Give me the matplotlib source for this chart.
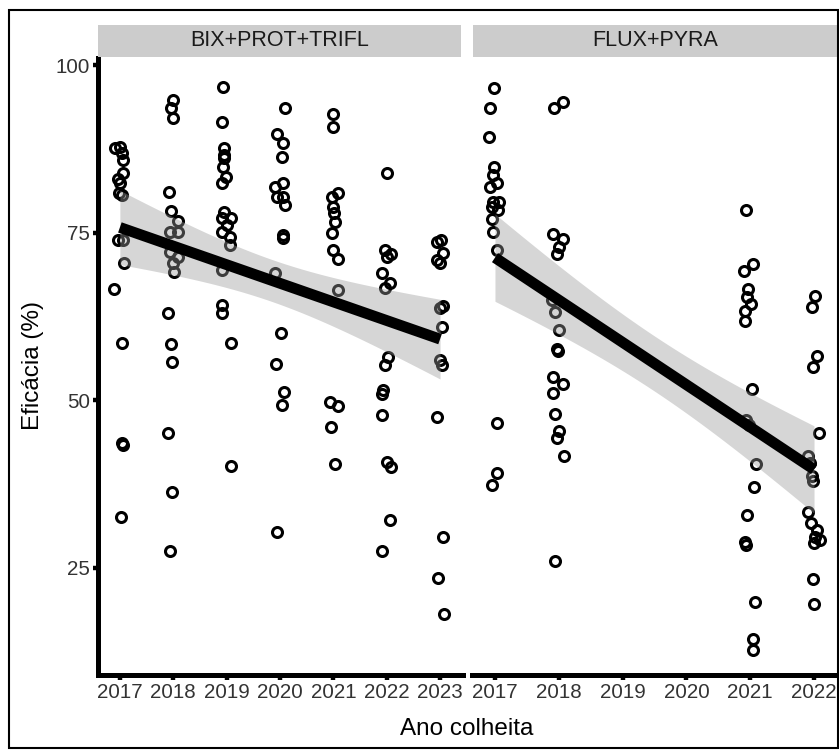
import numpy as np
import matplotlib
matplotlib.use('Agg')
import matplotlib.pyplot as plt
from matplotlib.patches import Rectangle

plt.rcParams['font.family'] = ['Liberation Sans', 'DejaVu Sans']

##### data (year, jitter offset in years, efficacy %) #####
# BIX+PROT+TRIFL
bix_2017 = [87.6, 87.8, 86.9, 85.8, 84.0, 83.1, 82.4, 80.9, 80.6, 73.9, 73.9, 70.5, 66.6, 58.5, 43.6, 43.4, 32.6]
bix_2017_j = [-0.09, 0.0, 0.04, 0.06, 0.06, -0.04, 0.0, -0.02, 0.04, -0.04, 0.06, 0.08, -0.11, 0.04, 0.04, 0.06, 0.02]
bix_2018 = [94.8, 93.7, 92.2, 81.1, 78.2, 76.7, 75.1, 75.1, 72.1, 71.4, 70.5, 69.2, 63.0, 58.4, 55.7, 45.1, 36.3, 27.5]
bix_2018_j = [0, -0.04, 0, -0.08, -0.04, 0.08, -0.06, 0.08, -0.06, 0.08, 0, 0.02, -0.09, -0.04, -0.02, -0.09, -0.02, -0.06]
bix_2019 = [96.7, 91.5, 87.6, 86.6, 86.1, 84.8, 83.3, 82.4, 78.1, 77.2, 77.2, 76.1, 75.1, 74.4, 73.2, 69.4, 64.2, 63.0, 58.5, 40.2]
bix_2019_j = [-0.06, -0.09, -0.04, -0.04, -0.04, -0.06, -0.02, -0.08, -0.04, -0.09, 0.09, 0, -0.08, 0.06, 0.06, -0.08, -0.08, -0.08, 0.09, 0.08]
bix_2020 = [93.7, 89.7, 88.4, 86.3, 82.4, 81.8, 80.3, 80.3, 79.1, 74.7, 74.2, 69.0, 60.1, 55.4, 51.2, 49.3, 30.4]
bix_2020_j = [0.09, -0.06, 0.06, 0.04, 0.06, -0.09, -0.06, 0.06, 0.09, 0.06, 0.06, -0.09, 0.02, -0.08, 0.08, 0.04, -0.06]
bix_2021 = [92.8, 90.8, 80.9, 80.3, 78.8, 77.9, 76.6, 75.0, 72.4, 71.1, 66.5, 49.8, 49.2, 46.0, 40.5]
bix_2021_j = [0, 0, 0.08, -0.02, 0, 0.02, 0.04, -0.02, 0, 0.09, 0.08, -0.06, 0.09, -0.04, 0.04]
bix_2022 = [84.0, 72.4, 71.8, 71.4, 69.0, 67.5, 66.8, 56.5, 55.3, 51.5, 51.0, 47.8, 40.8, 40.1, 32.2, 27.5]
bix_2022_j = [0, -0.04, 0.09, 0, -0.09, 0.06, -0.04, 0.02, -0.04, -0.06, -0.08, -0.09, 0, 0.09, 0.06, -0.08]
bix_2023 = [73.6, 73.9, 72.0, 70.9, 70.5, 64.1, 63.8, 61.0, 56.0, 55.3, 47.5, 29.6, 23.5, 18.1]
bix_2023_j = [-0.06, 0.02, 0.06, -0.06, 0, 0.06, 0, 0.04, 0, 0.04, -0.06, 0.06, -0.04, 0.08]

# FLUX+PYRA
flux_2017 = [96.6, 93.6, 89.3, 84.8, 83.6, 82.4, 81.8, 79.6, 79.6, 78.8, 78.4, 77.0, 75.1, 72.4, 46.6, 39.2, 37.4]
flux_2017_j = [-0.02, -0.08, -0.09, -0.02, -0.03, 0.03, -0.08, -0.03, 0.06, -0.05, 0.05, -0.05, -0.03, 0.03, 0.03, 0.03, -0.05]
flux_2018 = [94.6, 93.6, 74.9, 74.1, 72.9, 71.8, 65.0, 63.2, 60.5, 57.7, 57.3, 53.5, 52.4, 51.1, 48.0, 45.4, 44.4, 41.7, 26.0]
flux_2018_j = [0.06, -0.08, -0.09, 0.06, 0, -0.03, -0.11, -0.06, 0, -0.03, -0.02, -0.09, 0.06, -0.09, -0.06, 0, -0.03, 0.08, -0.06]
flux_2021 = [78.4, 70.3, 69.3, 66.6, 65.4, 64.4, 63.3, 61.8, 51.7, 47.1, 46.3, 40.5, 37.1, 32.9, 28.9, 28.4, 19.9, 14.3, 12.8]
flux_2021_j = [-0.06, 0.05, -0.09, -0.03, -0.05, 0.02, -0.08, -0.08, 0.03, -0.06, -0.02, 0.09, 0.06, -0.05, -0.08, -0.06, 0.08, 0.05, 0.05]
flux_2022 = [65.6, 63.9, 56.6, 55.0, 45.1, 41.7, 40.7, 38.7, 38.0, 33.4, 31.7, 30.7, 29.6, 29.2, 28.7, 23.4, 19.6]
flux_2022_j = [0.02, -0.03, 0.05, -0.02, 0.08, -0.09, -0.06, -0.03, -0.02, -0.09, -0.05, 0.05, 0.02, 0.09, 0, -0.02, 0]

bix = {2017: (bix_2017, bix_2017_j), 2018: (bix_2018, bix_2018_j), 2019: (bix_2019, bix_2019_j),
       2020: (bix_2020, bix_2020_j), 2021: (bix_2021, bix_2021_j), 2022: (bix_2022, bix_2022_j),
       2023: (bix_2023, bix_2023_j)}
flux = {2017: (flux_2017, flux_2017_j), 2018: (flux_2018, flux_2018_j),
        2021: (flux_2021, flux_2021_j), 2022: (flux_2022, flux_2022_j)}

panels = [('BIX+PROT+TRIFL', bix, list(range(2017, 2024)), (2016.59, 2023.43)),
          ('FLUX+PYRA', flux, list(range(2017, 2023)), (2016.64, 2022.36))]


def tquant(df):
    # 97.5% t quantile (Cornish-Fisher expansion)
    z = 1.959964
    return z + (z**3 + z)/(4*df) + (5*z**5 + 16*z**3 + 3*z)/(96*df**2)


fig = plt.figure(figsize=(8.39, 7.51), dpi=100)
W, H = 839., 751.
px = lambda x0, y0, x1, y1: [x0/W, 1-y1/H, (x1-x0)/W, (y1-y0)/H]
axes_pos = [px(98, 58, 463, 675), px(472, 58, 837, 675)]
strip_pos = [px(98, 25, 461, 57), px(473, 25, 837, 57)]

for i, (name, d, years, xl) in enumerate(panels):
    ax = fig.add_axes(axes_pos[i])
    xs, ys, xr = [], [], []
    for yr in d:
        vals, jit = d[yr]
        xs += [yr + j for j in jit]
        ys += vals
        xr += [yr]*len(vals)
    xs, ys, xr = np.array(xs), np.array(ys), np.array(xr, dtype=float)

    ax.plot(xs, ys, 'o', ls='none', mfc='none', mec='black', ms=7.2, mew=2.2, zorder=2)

    # linear fit + 95% CI (like geom_smooth(method='lm'))
    b, a = np.polyfit(xr, ys, 1)
    n = len(ys)
    res = ys - (a + b*xr)
    s = np.sqrt(np.sum(res**2)/(n-2))
    sxx = np.sum((xr - xr.mean())**2)
    xg = np.linspace(xr.min(), xr.max(), 100)
    yg = a + b*xg
    se = s*np.sqrt(1/n + (xg - xr.mean())**2/sxx)
    tq = tquant(n-2)
    ax.fill_between(xg, yg - tq*se, yg + tq*se, color='#999999', alpha=0.4, lw=0, zorder=3)
    ax.plot(xg, yg, color='black', lw=7.8, solid_capstyle='butt', zorder=4)

    ax.set_xlim(*xl)
    ax.set_ylim(9.0, 101.1)
    ax.set_xticks(years)
    ax.set_xticklabels([str(y) for y in years])
    ax.set_yticks([25, 50, 75, 100])
    for sp in ['top', 'right']:
        ax.spines[sp].set_visible(False)
    ax.spines['bottom'].set_linewidth(3.6)
    ax.spines['left'].set_linewidth(3.6)
    ax.tick_params(axis='both', width=3.2, length=3.5, labelsize=14.8, colors='black',
                   labelcolor='#333333', pad=2)
    if i == 1:
        ax.spines['left'].set_visible(False)
        ax.tick_params(axis='y', left=False, labelleft=False)

    sax = fig.add_axes(strip_pos[i])
    sax.set_facecolor('#cccccc')
    sax.set_xticks([])
    sax.set_yticks([])
    for sp in sax.spines.values():
        sp.set_visible(False)
    sax.text(0.5, 0.5, name, ha='center', va='center', fontsize=15.5, color='#1a1a1a',
             transform=sax.transAxes)

fig.text(467/W, 1-729/H, 'Ano colheita', ha='center', va='center', fontsize=17.5, color='black')
fig.text(33/W, 1-366/H, 'Eficácia (%)', ha='center', va='center', rotation=90, fontsize=17.5, color='black')

# outer frame
fig.patches.append(Rectangle((9/W, 3/H), 829/W, 738/H, transform=fig.transFigure,
                             fill=False, edgecolor='black', lw=1.5))

plt.savefig('out.png', dpi=100)
